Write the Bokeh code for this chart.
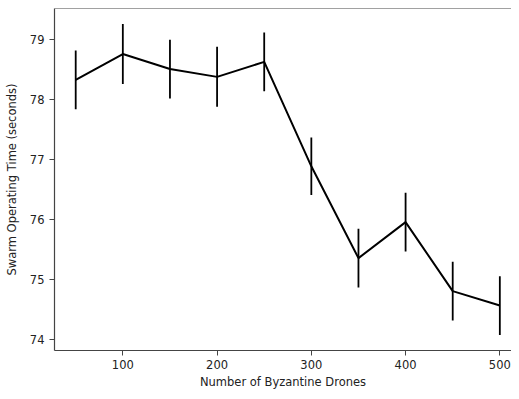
from bokeh.plotting import figure
from bokeh.models import ColumnDataSource, Range1d, FixedTicker, Span
from bokeh.embed import file_html
from bokeh.resources import INLINE

# Data
drones = [50, 100, 150, 200, 250, 300, 350, 400, 450, 500]
op_time = [78.33, 78.76, 78.51, 78.38, 78.63, 76.89, 75.36, 75.96, 74.81, 74.57]
op_err = [0.49, 0.50, 0.49, 0.50, 0.49, 0.48, 0.49, 0.49, 0.49, 0.49]
x_ticks = [100, 200, 300, 400, 500]
y_ticks = [74, 75, 76, 77, 78, 79]

lower = [v - e for v, e in zip(op_time, op_err)]
upper = [v + e for v, e in zip(op_time, op_err)]
src = ColumnDataSource(dict(x=drones, y=op_time, lo=lower, hi=upper))

# matplotlib-like 5% margins (right edge of the axes runs past the picture)
xmin, xmax = min(drones), max(drones)
xm = 0.05 * (xmax - xmin)
ymin, ymax = min(lower), max(upper)
ym = 0.05 * (ymax - ymin)
y_end = ymax + ym

p = figure(width=511, height=391, output_backend="svg", toolbar_location=None,
           x_range=Range1d(xmin - xm, xmax + 0.55 * xm), y_range=Range1d(ymin - ym, y_end),
           min_border_left=54, min_border_right=0, min_border_top=8, min_border_bottom=38)

p.line("x", "y", source=src, line_color="black", line_width=2)
p.segment(x0="x", y0="lo", x1="x", y1="hi", source=src, line_color="black", line_width=1.8)

p.xgrid.visible = False
p.ygrid.visible = False
p.outline_line_color = None
p.add_layout(Span(location=y_end, dimension="width", line_color="#444444", line_width=1.2))

p.xaxis.ticker = FixedTicker(ticks=x_ticks)
p.yaxis.ticker = FixedTicker(ticks=y_ticks)
p.xaxis.axis_label = "Number of Byzantine Drones"
p.yaxis.axis_label = "Swarm Operating Time (seconds)"

for ax in (p.xaxis, p.yaxis):
    ax.axis_line_color = "#444444"
    ax.axis_line_width = 1.2
    ax.major_tick_line_color = "#444444"
    ax.major_tick_in = 0
    ax.major_tick_out = 5
    ax.minor_tick_line_color = None
    ax.major_label_text_font = "DejaVu Sans"
    ax.major_label_text_font_size = "11.5px"
    ax.major_label_text_color = "#222222"
    ax.axis_label_text_font = "DejaVu Sans"
    ax.axis_label_text_font_size = "11.5px"
    ax.axis_label_text_font_style = "normal"
    ax.axis_label_text_color = "#222222"

p.yaxis.major_label_standoff = 5
p.xaxis.major_label_standoff = 4
p.yaxis.axis_label_standoff = 8
p.xaxis.axis_label_standoff = 3

open("out.html", "w").write(file_html(p, INLINE))
